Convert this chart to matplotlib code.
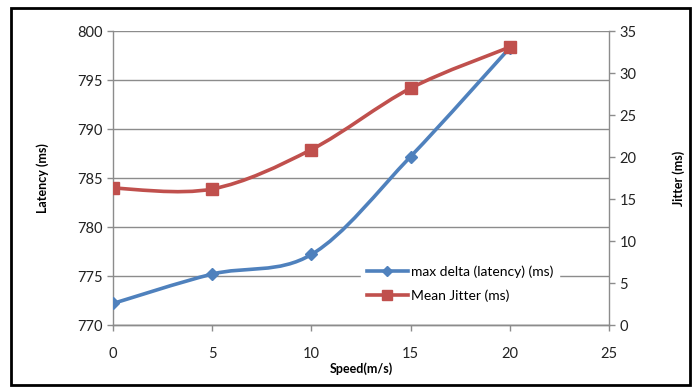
import numpy as np
import matplotlib
matplotlib.use("Agg")
import matplotlib.pyplot as plt
from matplotlib.path import Path
from matplotlib.patches import PathPatch, Rectangle
from matplotlib.lines import Line2D

plt.rcParams['font.family'] = ['Lato', 'DejaVu Sans']

# data
speed = [0, 5, 10, 15, 20]
latency = [772.2, 775.2, 777.2, 787.2, 798.3]
jitter = [16.3, 16.2, 20.9, 28.2, 33.1]

blue = '#4F81BD'
red = '#C0504D'
grey = '#8C8C8C'


def smooth_path(x, y):
    # Excel style smoothed line: cubic bezier segments through the points
    pts = np.column_stack([x, y]).astype(float)
    n = len(pts)
    verts = [pts[0]]
    codes = [Path.MOVETO]
    for i in range(n - 1):
        p0 = pts[max(i - 1, 0)]
        p1 = pts[i]
        p2 = pts[i + 1]
        p3 = pts[min(i + 2, n - 1)]
        c1 = p1 + (p2 - p0) / 6.0
        c2 = p2 - (p3 - p1) / 6.0
        verts += [c1, c2, p2]
        codes += [Path.CURVE4] * 3
    return Path(verts, codes)


fig = plt.figure(figsize=(6.98, 3.89), dpi=100)
ax = fig.add_axes([0.162, 0.1645, 0.7105, 0.7555])
ax2 = ax.twinx()

ax.set_xlim(0, 25)
ax.set_ylim(770, 800)
ax2.set_ylim(0, 35)
ax.set_xticks(range(0, 26, 5))
ax.set_yticks(range(770, 801, 5))
ax2.set_yticks(range(0, 36, 5))

ax.yaxis.grid(True, color=grey, lw=1)
ax.set_axisbelow(True)

for a in (ax, ax2):
    a.spines['top'].set_visible(False)
    for s in ('left', 'right', 'bottom'):
        a.spines[s].set_color(grey)
        a.spines[s].set_linewidth(1)
    a.tick_params(colors=grey, labelcolor='#222222', labelsize=10.5, length=4, width=1)
ax2.spines['left'].set_visible(False)
ax.spines['right'].set_visible(False)
ax.tick_params(axis='x', pad=12)

# lines
ax.add_patch(PathPatch(smooth_path(speed, latency), fill=False, edgecolor=blue, lw=2.6, zorder=3))
ax.plot(speed, latency, ls='none', marker='D', ms=6.5, color=blue, zorder=4)
ax2.add_patch(PathPatch(smooth_path(speed, jitter), fill=False, edgecolor=red, lw=2.6, zorder=3))
ax2.plot(speed, jitter, ls='none', marker='s', ms=9, color=red, zorder=4)

ax.set_ylabel('Latency (ms)', fontsize=9, fontweight='bold', labelpad=20)
ax2.set_ylabel('Jitter (ms)', fontsize=9, fontweight='bold', labelpad=26)
ax.set_xlabel('Speed(m/s)', fontsize=9, fontweight='bold', labelpad=1)

handles = [Line2D([], [], color=blue, lw=2.6, marker='D', ms=5),
           Line2D([], [], color=red, lw=2.6, marker='s', ms=7)]
leg = ax2.legend(handles, ['max delta (latency) (ms)', 'Mean Jitter (ms)'],
                 loc='lower left', bbox_to_anchor=(0.5, 0.06), frameon=True,
                 fontsize=10, handlelength=3, handletextpad=0.2, labelspacing=0.8,
                 borderaxespad=0, borderpad=0.4)
leg.get_frame().set_edgecolor('white')
leg.get_frame().set_facecolor('white')
leg.get_frame().set_alpha(1)

# outer border of the chart
fig.patches.append(Rectangle((11 / 698, 4 / 389), 679 / 698, 377 / 389, transform=fig.transFigure,
                             fill=False, edgecolor='black', lw=2))

fig.savefig('out.png', dpi=100)
